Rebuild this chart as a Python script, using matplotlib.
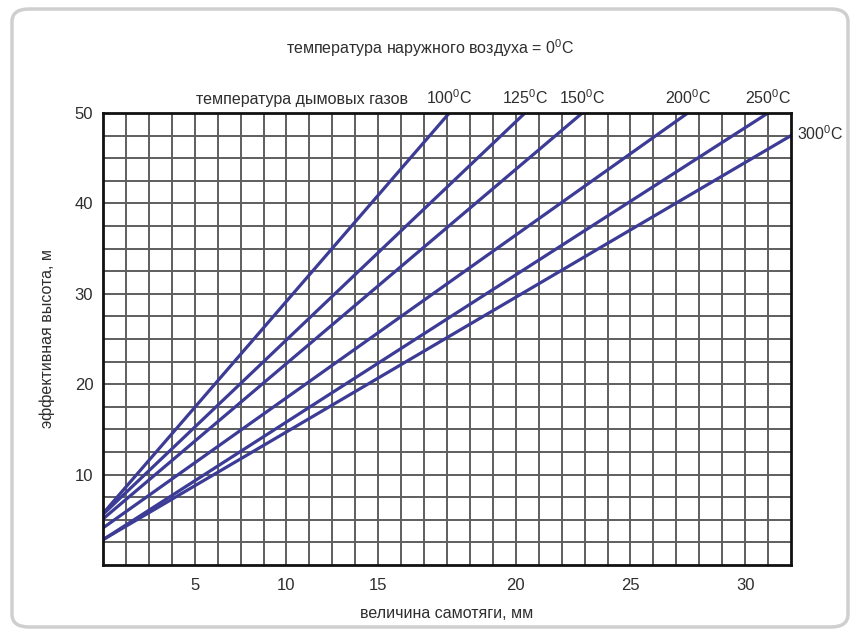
import matplotlib
matplotlib.use("Agg")
import matplotlib.pyplot as plt
from matplotlib.patches import FancyBboxPatch
from matplotlib import font_manager

# chart is drawn on a grid of 30 x 20 cells; x tick labels sit on uneven cells
x_tick_cells = [4, 8, 12, 18, 23, 28]
x_tick_labels = ["5", "10", "15", "20", "25", "30"]
y_ticks = [10, 20, 30, 40, 50]

temps = ["100", "125", "150", "200", "250", "300"]
x_start = [0, 0, 0, 0, 0, 0]
y_start = [5.7, 5.6, 5.1, 4.1, 2.8, 2.8]
x_end = [15.1, 18.4, 20.9, 25.5, 29.0, 30.0]
y_end = [50, 50, 50, 50, 50, 47.5]

names = {f.name for f in font_manager.fontManager.ttflist}
fam = "Liberation Sans Narrow" if "Liberation Sans Narrow" in names else "Liberation Sans"
plt.rcParams["font.family"] = [fam, "DejaVu Sans"]
plt.rcParams["mathtext.fontset"] = "custom"
plt.rcParams["mathtext.rm"] = fam

text_col = "#2e2e2e"
line_col = "#3c3c96"
deg = r"$^{\mathregular{0}}$C"

fig = plt.figure(figsize=(8.55, 6.39), dpi=100)
frame = FancyBboxPatch((12 / 855, 12 / 639), 836 / 855, 618 / 639,
                       boxstyle="round,pad=0,rounding_size=0.02",
                       transform=fig.transFigure, fc="white",
                       ec="#cfcfcf", lw=2.5, zorder=-10)
fig.patches.append(frame)
ax = fig.add_axes([103 / 855, 1 - 565 / 639, 688 / 855, 452 / 639])
ax.set_zorder(5)

ax.set_xlim(0, 30)
ax.set_ylim(0, 50)
for i in range(1, 30):
    ax.axvline(i, color="#5e5e5e", lw=1.4, zorder=1)
for i in range(1, 20):
    ax.axhline(i * 2.5, color="#5e5e5e", lw=1.4, zorder=1)

for xs, ys, xe, ye in zip(x_start, y_start, x_end, y_end):
    ax.plot([xs, xe], [ys, ye], color=line_col, lw=2.3, zorder=3)

for t, xe, ye in zip(temps, x_end, y_end):
    if ye >= 50:
        ax.text(xe, 50.7, t + deg, ha="center", va="bottom",
                fontsize=11.5, color=text_col, clip_on=False)
    else:
        ax.text(xe + 0.25, ye + 0.2, t + deg, ha="left", va="center",
                fontsize=11.5, color=text_col, clip_on=False)
ax.text(13.3, 50.7, "температура дымовых газов", ha="right", va="bottom",
        fontsize=11.5, color=text_col)
fig.text(0.503, 1 - 48 / 639, "температура наружного воздуха = 0" + deg,
         ha="center", va="center", fontsize=11.5, color=text_col)

ax.set_xticks(x_tick_cells)
ax.set_xticklabels(x_tick_labels)
ax.set_yticks(y_ticks)
ax.tick_params(length=0, labelsize=12, colors=text_col, pad=9)
ax.tick_params(axis="y", pad=7)
ax.set_xlabel("величина самотяги, мм", fontsize=11.5, color=text_col, labelpad=10)
ax.set_ylabel("эффективная высота, м", fontsize=11.5, color=text_col, labelpad=14)
for s in ax.spines.values():
    s.set_color("#111111")
    s.set_linewidth(2)
    s.set_zorder(4)

fig.savefig("out.png", dpi=100)
